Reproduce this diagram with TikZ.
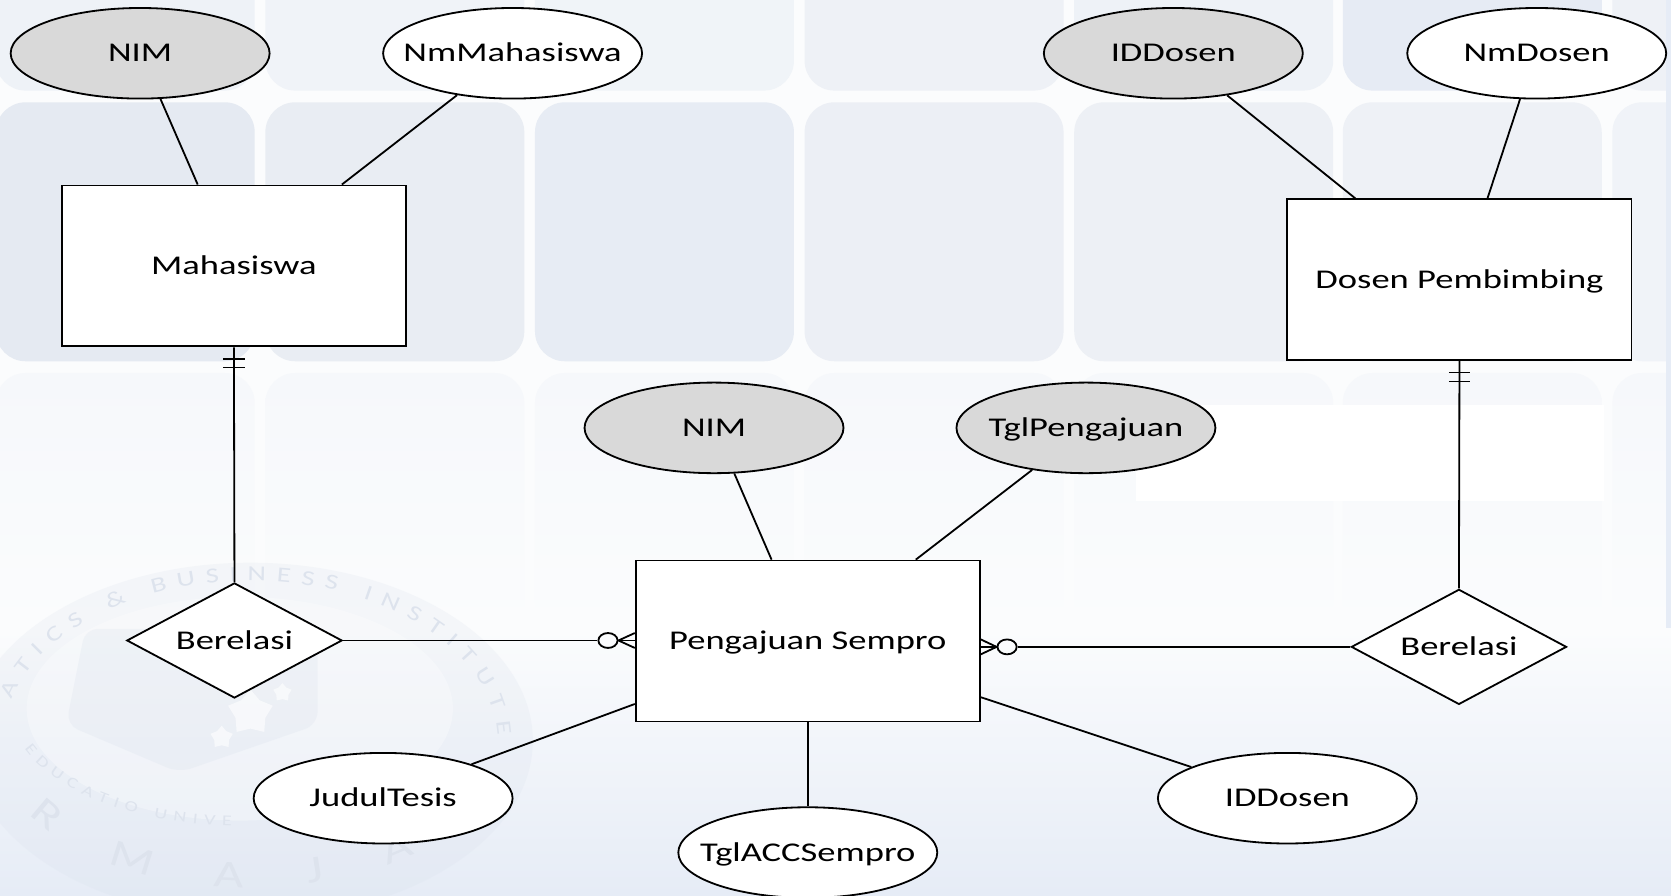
\documentclass[tikz,border=0pt]{standalone}
\usepackage{fontspec}
\setmainfont[FakeStretch=1.35]{Carlito}
\usetikzlibrary{shapes.geometric,calc,decorations.text}
\definecolor{keygray}{HTML}{D9D9D9}
\definecolor{tilelow}{HTML}{F6F8FB}
\definecolor{pagebase}{HTML}{FBFCFD}
\definecolor{pagelow}{HTML}{E6ECF6}
\definecolor{sealfill}{HTML}{D5DDEA}
\definecolor{sealtext}{HTML}{DDE3ED}
\tikzset{
  attrib/.style={draw,ellipse,fill=white,minimum width=121.5pt,minimum height=42.5pt,inner xsep=-15pt,inner ysep=0pt},
  keyattrib/.style={attrib,fill=keygray},
  entity/.style={draw,rectangle,fill=white,minimum width=161.5pt,minimum height=75.5pt,inner sep=0pt},
  relasi/.style={draw,diamond,fill=white,shape aspect=1.87,minimum width=101pt,minimum height=54pt,inner sep=0pt},
  optcircle/.style={draw,ellipse,minimum width=9pt,minimum height=7pt,inner sep=0pt,text height=0pt,text depth=0pt},
  sealstar/.style={star,fill=white,opacity=0.6,inner sep=0pt,text height=0pt,text depth=0pt},
  onebar/.pic={\draw (-10,11) -- (10,11); \draw (-10,19) -- (10,19);}
}
\begin{document}
\begin{tikzpicture}[x=0.5pt,y=-0.5pt,line width=0.85pt,every node/.append style={font=\fontsize{12.7}{15}\selectfont,text height=11pt,text depth=3pt}]
\useasboundingbox (0,0) rectangle (1568,840);
\fill[pagebase] (0,0) rectangle (1568,840);
\foreach \xa/\ctop/\cmid in {-4/EEF2F7/E5EAF2,249/F0F3F8/E9EDF3,502/F0F4F8/E7ECF4,755/EEF1F6/ECEFF5,1008/EEF2F7/EDF0F5,1260/E6EBF4/EEF1F6,1513/EEF1F6/F0F3F8} {
  \definecolor{tiletop}{HTML}{\ctop}
  \definecolor{tilemid}{HTML}{\cmid}
  \fill[tiletop,rounded corners=14pt] (\xa,-60) rectangle ++(243,145);
  \fill[tilemid,rounded corners=14pt] (\xa,96) rectangle ++(243,243);
  \shade[rounded corners=14pt,top color=tilelow,bottom color=pagebase] (\xa,350) rectangle ++(243,243);
}
\fill[white] (1066,380) rectangle (1505,470);
\fill[pagelow] (1563,0) rectangle (1568,840);
\shade[top color=pagebase,bottom color=pagelow] (0,590) rectangle (1568,840);
\fill[sealfill,opacity=0.18] (235,695) ellipse (265 and 167);
\fill[white,opacity=0.3] (225,665) ellipse (200 and 105);
\fill[sealfill,opacity=0.22,rounded corners=6pt] (80,590) -- (298,590) -- (298,680) -- (168,725) -- (62,680) -- cycle;
\node[sealstar,minimum size=22pt] (star1) at (235,669) {};
\node[sealstar,minimum size=9pt] (star2) at (265,650) {};
\node[sealstar,minimum size=11pt] (star3) at (208,692) {};
\path[decorate,decoration={text along path,text align={fit to path},
  text={|\fontsize{10}{10}\selectfont\color{sealtext}|ATICS {\&} BUSINESS INSTITUTE}}]
  (235,695) ++(195:232 and 150) arc[start angle=195,end angle=358,x radius=232,y radius=150];
\path[decorate,decoration={text along path,text align={fit to path},
  text={|\fontsize{7}{7}\selectfont\color{sealtext}|EDUCATIO UNIVE}}]
  (225,665) ++(160:215 and 110) arc[start angle=160,end angle=92,x radius=215,y radius=110];
\path[decorate,decoration={text along path,text align={fit to path},
  text={|\fontsize{18}{18}\selectfont\color{sealtext}|R M A J A}}]
  (235,695) ++(150:240 and 138) arc[start angle=150,end angle=50,x radius=240,y radius=138];

\node[keyattrib] (nim1) at (131.5, 50) {NIM};
\node[attrib] (nmmhs) at (481, 50) {NmMahasiswa};
\node[keyattrib] (iddsn1) at (1101, 50) {IDDosen};
\node[attrib] (nmdsn) at (1442, 50) {NmDosen};
\node[entity] (mhs) at (219.5, 249.5) {Mahasiswa};
\node[entity] (dsn) at (1369.5, 262.5) {Dosen Pembimbing};
\node[keyattrib] (nim2) at (670, 401.5) {NIM};
\node[keyattrib] (tglpj) at (1019, 401.5) {TglPengajuan};
\node[entity] (pjn) at (758, 601.5) {Pengajuan Sempro};
\node[relasi] (rel1) at (220, 601) {Berelasi};
\node[relasi] (rel2) at (1369, 607) {Berelasi};
\node[attrib] (judul) at (359.5, 749) {JudulTesis};
\node[attrib] (iddsn2) at (1208, 749) {IDDosen};
\node[attrib] (tglacc) at (758, 800) {TglACCSempro};
\node[optcircle] (opt1) at (570.5, 601) {};
\node[optcircle] (opt2) at (945, 607) {};

\draw (nim1.-66) -- (mhs.114);
\draw (nmmhs.-143) -- (mhs.37);
\draw (iddsn1.-38) -- (dsn.142);
\draw (nmdsn.-110) -- (dsn.71);
\draw (nim2.-66) -- (pjn.114);
\draw (tglpj.-142) -- (pjn.37);
\draw (judul.21) -- (pjn.200);
\draw (iddsn2.162) -- (pjn.-18);
\draw (pjn.south) -- (tglacc.north);
\draw (mhs.south) -- (rel1.north);
\draw (dsn.south) -- (rel2.north);
\draw (rel1.east) -- (opt1.west);
\draw (rel2.west) -- (opt2.east);
\draw (opt1.east) -- (pjn.west |- opt1);
\draw (opt1.east) -- ($(pjn.west |- opt1)+(0,-7)$);
\draw (opt1.east) -- ($(pjn.west |- opt1)+(0,7)$);
\draw (opt2.west) -- (pjn.east |- opt2);
\draw (opt2.west) -- ($(pjn.east |- opt2)+(0,-7)$);
\draw (opt2.west) -- ($(pjn.east |- opt2)+(0,7)$);
\pic[line width=0.6pt] at (mhs.south) {onebar};
\pic[line width=0.6pt] at (dsn.south) {onebar};
\end{tikzpicture}
\end{document}
